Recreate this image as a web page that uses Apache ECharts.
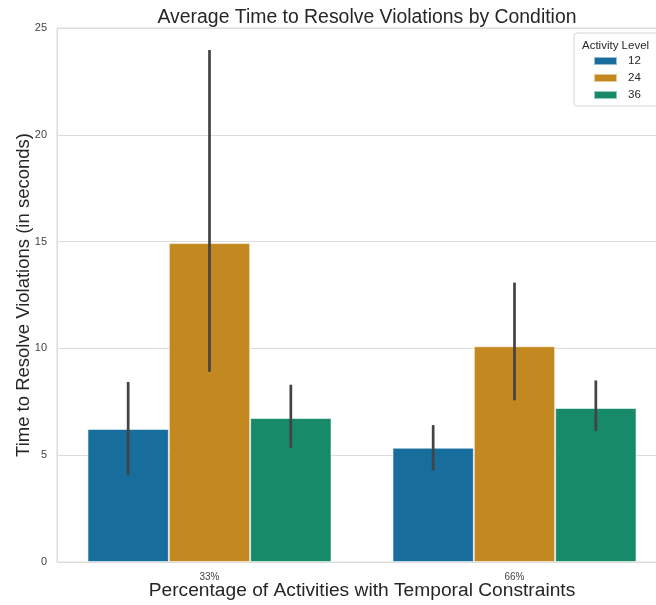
<!DOCTYPE html>
<html>
<head>
<meta charset="utf-8">
<script src="https://cdn.jsdelivr.net/npm/echarts@6/dist/echarts.min.js"></script>
<style>
  html, body { margin: 0; padding: 0; background: #fff; }
  #chart { width: 656px; height: 605px; }
</style>
</head>
<body>
<div id="chart"></div>
<script>
var categories = ['33%', '66%'];
var levels = ['12', '24', '36'];
var colors = ['#176d9b', '#c48820', '#178a6a'];

// mean time per activity level, one value per category
var mean12 = [6.23, 5.35];
var mean24 = [14.93, 10.10];
var mean36 = [6.74, 7.21];

// confidence interval ends
var low12 = [4.07, 4.29];
var high12 = [8.43, 6.41];
var low24 = [8.91, 7.57];
var high24 = [23.97, 13.08];
var low36 = [5.35, 6.13];
var high36 = [8.30, 8.50];

var yTicks = [0, 5, 10, 15, 20, 25];

var means = [mean12, mean24, mean36];
var lows = [low12, low24, low36];
var highs = [high12, high24, high36];

var chart = echarts.init(document.getElementById('chart'));

var series = [];
for (let h = 0; h < 3; h++) {
	series.push({
		name: levels[h],
		type: 'bar',
		barGap: '0%',
		barCategoryGap: '20%',
		itemStyle: {
			color: colors[h],
			borderColor: 'rgba(255,255,255,0.55)',
			borderWidth: 1
		},
		data: means[h]
	});
}

// error bars drawn as a custom series, shifted to each bar's centre
for (let h = 0; h < 3; h++) {
	let errData = [];
	for (let c = 0; c < categories.length; c++) {
		errData.push([c, lows[h][c], highs[h][c]]);
	}
	series.push({
		type: 'custom',
		silent: true,
		z: 10,
		renderItem: (function (hue) {
			return function (params, api) {
				var catW = api.size([1, 0])[0];
				var shift = (hue - 1) * catW * 0.8 / 3;
				var p1 = api.coord([api.value(0), api.value(1)]);
				var p2 = api.coord([api.value(0), api.value(2)]);
				return {
					type: 'line',
					shape: { x1: p1[0] + shift, y1: p1[1], x2: p2[0] + shift, y2: p2[1] },
					style: { stroke: '#434343', lineWidth: 2.7 }
				};
			};
		})(h),
		encode: { x: 0, y: [1, 2] },
		data: errData
	});
}

var option = {
	animation: false,
	backgroundColor: '#fff',
	title: [{
		text: 'Average Time to Resolve Violations by Condition',
		left: 362,
		textAlign: 'center',
		top: 3,
		textStyle: { fontFamily: 'Arial, Liberation Sans', fontSize: 19.4, fontWeight: 'normal', color: '#262626' }
	}, {
		text: 'Activity Level',
		left: 577,
		top: 35,
		textStyle: { fontFamily: 'Arial, Liberation Sans', fontSize: 11.5, fontWeight: 'normal', color: '#262626' }
	}],
	legend: {
		orient: 'vertical',
		left: 574,
		top: 33,
		padding: [22, 40, 5, 19],
		itemWidth: 23,
		itemHeight: 8,
		itemGap: 5,
		borderColor: '#d5d5d5',
		borderWidth: 1,
		borderRadius: 3,
		icon: 'rect',
		textStyle: { fontFamily: 'Arial, Liberation Sans', fontSize: 11.5, color: '#262626', padding: [0, 0, 0, 6] },
		data: levels
	},
	grid: {
		left: 57,
		top: 28,
		width: 610,
		height: 534,
		outerBoundsMode: 'none',
		containLabel: false,
		show: true,
		borderColor: '#dcdcdc',
		borderWidth: 1
	},
	xAxis: {
		type: 'category',
		data: categories,
		name: 'Percentage of Activities with Temporal Constraints',
		nameLocation: 'middle',
		nameMoveOverlap: false,
		nameGap: 19,
		nameTextStyle: { fontFamily: 'Arial, Liberation Sans', fontSize: 19.2, color: '#262626' },
		axisLine: { lineStyle: { color: '#dcdcdc' } },
		axisTick: { show: false },
		axisLabel: { fontFamily: 'Arial, Liberation Sans', fontSize: 10, color: '#444', margin: 10 }
	},
	yAxis: {
		type: 'value',
		min: yTicks[0],
		max: yTicks[yTicks.length - 1],
		interval: 5,
		name: 'Time to Resolve Violations (in seconds)',
		nameLocation: 'middle',
		nameMoveOverlap: false,
		nameGap: 24,
		nameTextStyle: { fontFamily: 'Arial, Liberation Sans', fontSize: 18.5, color: '#262626' },
		axisLine: { show: true, lineStyle: { color: '#dcdcdc' } },
		axisTick: { show: false },
		axisLabel: { fontFamily: 'Arial, Liberation Sans', fontSize: 11, color: '#444', margin: 10 },
		splitLine: { lineStyle: { color: '#dcdcdc', width: 1 } }
	},
	series: series
};

chart.setOption(option);
</script>
</body>
</html>
